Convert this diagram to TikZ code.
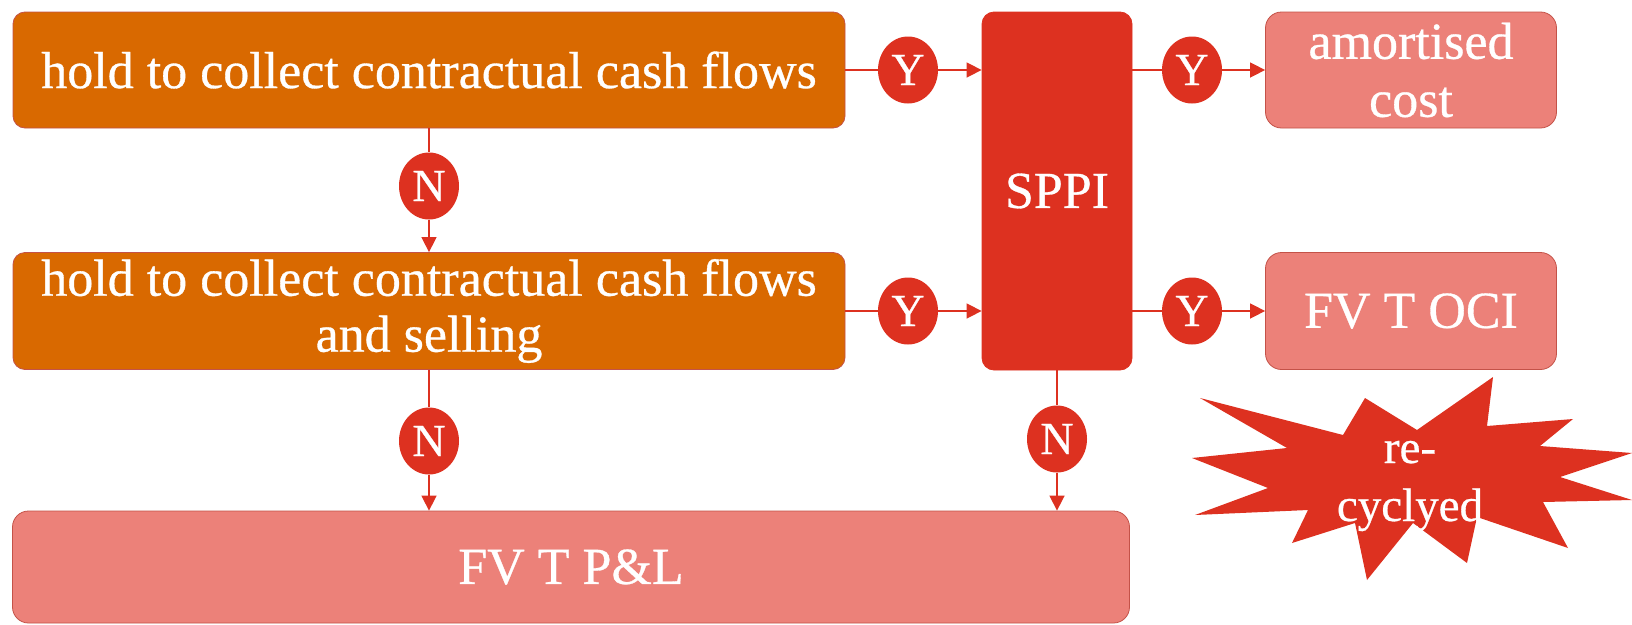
\documentclass[tikz,border=0pt]{standalone}
\usepackage{fontspec}
\setmainfont{Liberation Serif}[FakeBold=0.6]
\usetikzlibrary{arrows.meta,shapes.geometric}

\definecolor{boxorange}{RGB}{217,105,0}
\definecolor{sppired}{RGB}{221,49,32}
\definecolor{lightred}{RGB}{236,129,121}
\definecolor{edgered}{RGB}{196,82,72}

\tikzset{
    stage/.style={draw=edgered, line width=0.8pt, rounded corners=12pt, text=white,
        align=center, inner sep=0pt, font=\fontsize{52}{56}\selectfont},
    test/.style={stage, fill=boxorange},
    result/.style={stage, fill=lightred, rounded corners=16pt},
    answer/.style={ellipse, fill=sppired, text=white, minimum width=60pt,
        minimum height=67pt, inner sep=0pt, font=\fontsize{46}{50}\selectfont},
    link/.style={draw=sppired, line width=1.5pt},
    tip/.style={link, -{Triangle[length=15pt,width=15pt]}},
}

\begin{document}
\begin{tikzpicture}[x=1pt, y=-1pt]
        \useasboundingbox (0, 0) rectangle (1632, 624);

        \node[test, minimum width=832pt, minimum height=116pt] (hold) at (429, 70)
            {hold to collect contractual cash flows};
        \node[test, minimum width=832pt, minimum height=117pt] (holdsell) at (429, 311)
            {hold to collect contractual cash flows\\and selling};
        \node[stage, fill=sppired, draw=sppired, minimum width=150pt, minimum height=358pt] (sppi) at (1057, 191)
            {SPPI};
        \node[result, minimum width=291pt, minimum height=116pt, font=\fontsize{52}{58}\selectfont] (amort) at (1411, 70)
            {amortised\\cost};
        \node[result, minimum width=291pt, minimum height=117pt] (oci) at (1411, 311)
            {FV T OCI};
        \node[result, minimum width=1117pt, minimum height=112pt] (pl) at (571, 567)
            {FV T P\&L};

        \node[answer] (y1) at (908, 70) {Y};
        \node[answer] (y2) at (908, 311) {Y};
        \node[answer] (y3) at (1192, 70) {Y};
        \node[answer] (y4) at (1192, 311) {Y};
        \node[answer] (n1) at (429, 186) {N};
        \node[answer] (n2) at (429, 441) {N};
        \node[answer] (n3) at (1057, 439) {N};

        \draw[link] (hold) -- (y1);
        \draw[tip] (y1) -- (y1 -| sppi.west);
        \draw[link] (holdsell) -- (y2);
        \draw[tip] (y2) -- (y2 -| sppi.west);
        \draw[link] (y3 -| sppi.east) -- (y3);
        \draw[tip] (y3) -- (amort);
        \draw[link] (y4 -| sppi.east) -- (y4);
        \draw[tip] (y4) -- (oci);

        \draw[link] (hold) -- (n1);
        \draw[tip] (n1) -- (n1 |- holdsell.north);
        \draw[link] (holdsell) -- (n2);
        \draw[tip] (n2) -- (n2 |- pl.north);
        \draw[link] (sppi) -- (n3);
        \draw[tip] (n3) -- (n3 |- pl.north);

        \fill[sppired] (1200, 398) -- (1343, 435) -- (1365, 398) -- (1417, 430)
            -- (1493, 377) -- (1487, 426) -- (1573, 419) -- (1540, 446)
            -- (1632, 453) -- (1560, 477) -- (1632, 500) -- (1543, 502)
            -- (1568, 548) -- (1477, 517) -- (1467, 563) -- (1413, 523)
            -- (1367, 580) -- (1355, 523) -- (1292, 543) -- (1308, 510)
            -- (1195, 515) -- (1268, 488) -- (1192, 458) -- (1287, 448) -- cycle;
        \node[text=white, align=center, font=\fontsize{47}{58}\selectfont] (recycled) at (1410, 486)
            {re-\\cyclyed};

    \end{tikzpicture}
\end{document}
